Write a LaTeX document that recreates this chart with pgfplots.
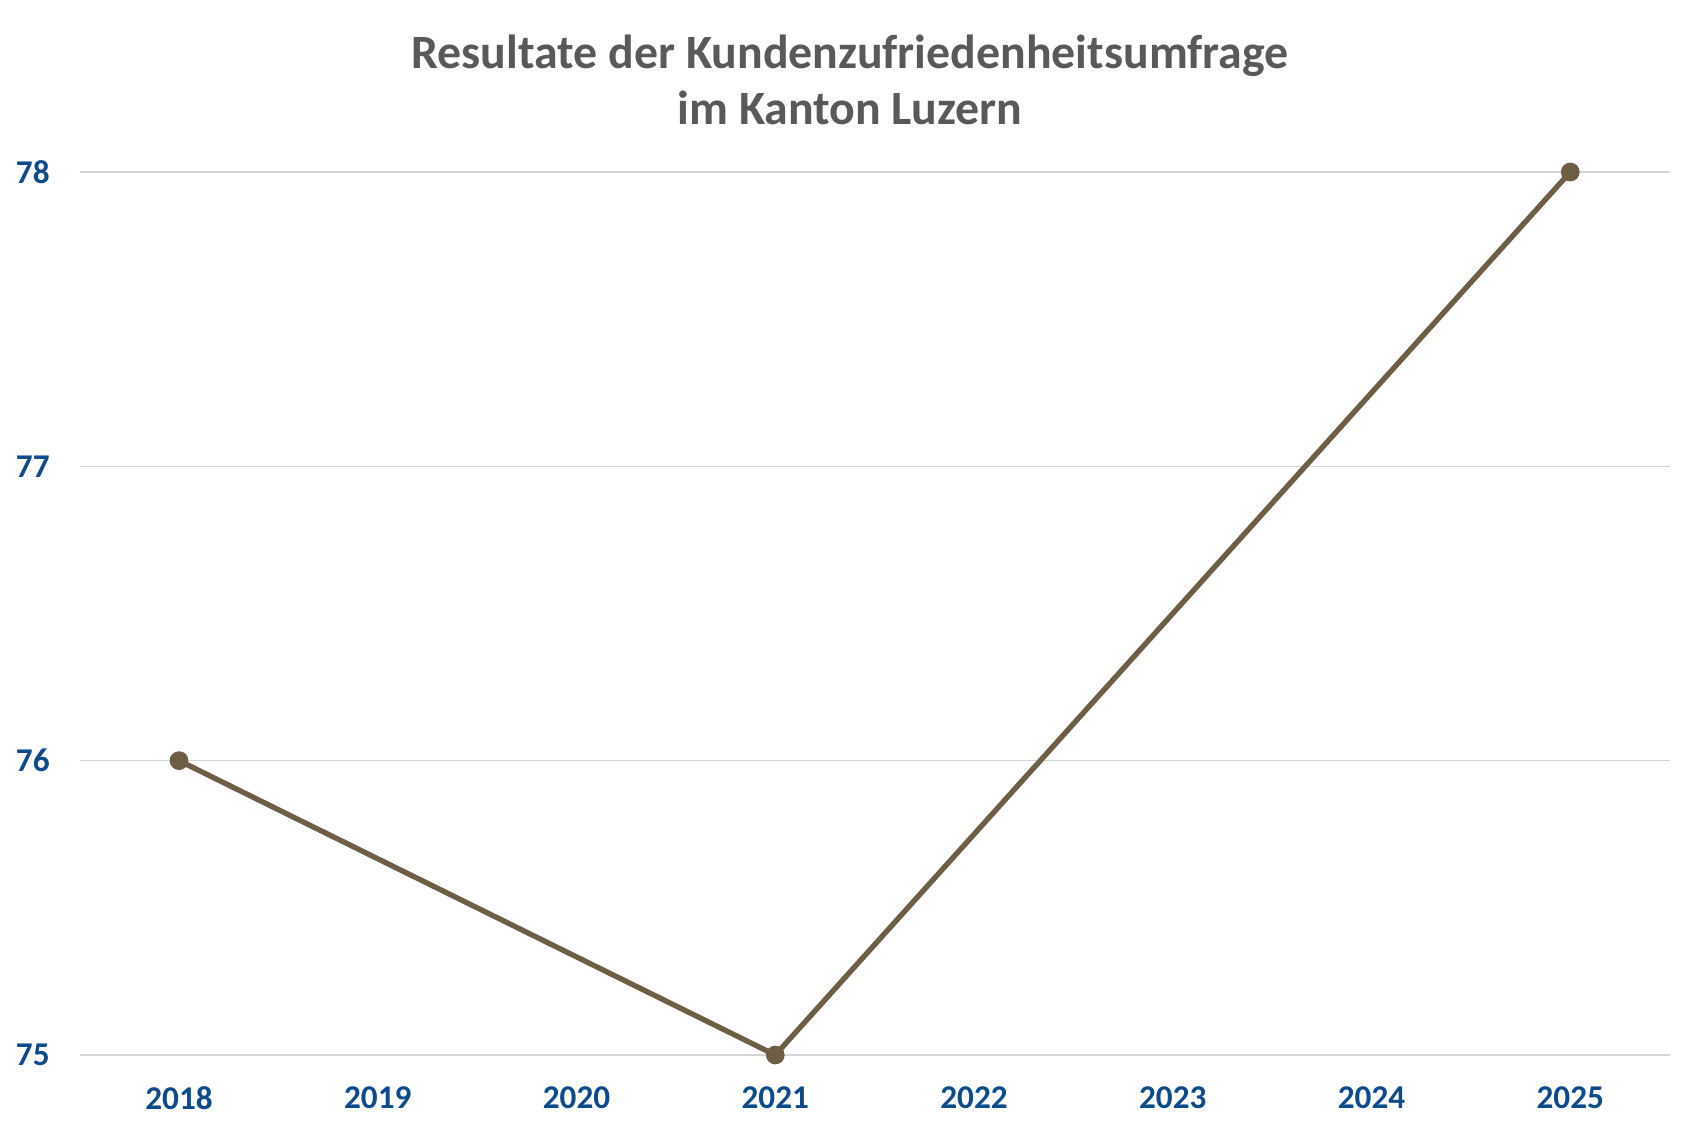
\documentclass[border=0pt]{standalone}
\usepackage{pgfplots}
\pgfplotsset{compat=1.18}
\usepackage{fontspec}
\setmainfont{Carlito}
\definecolor{titlegray}{HTML}{595959}
\definecolor{labblue}{HTML}{0E4B8C}
\definecolor{linebrown}{HTML}{6E5E45}
\definecolor{gridgray}{HTML}{D4D4D4}
\begin{document}
\begin{tikzpicture}
\path[fill=white] (0,0) rectangle (510bp,339.6bp);
\begin{axis}[
  at={(23.9bp,23.1bp)}, anchor=south west,
  scale only axis,
  width=477bp, height=264.9bp,
  xmin=-0.5, xmax=7.5,
  ymin=75, ymax=78,
  xtick={0,1,2,3,4,5,6,7},
  xticklabels={2018,2019,2020,2021,2022,2023,2024,2025},
  ytick={75,76,77,78},
  axis line style={draw=none},
  major tick length=0pt,
  ymajorgrids,
  grid style={gridgray, line width=0.45bp},
  tick label style={font=\fontsize{10}{12}\selectfont\bfseries, text=labblue},
  /pgf/number format/assume math mode=true,
  yticklabel style={anchor=east, xshift=-5.5bp},
  xticklabel style={anchor=north, yshift=-6bp},
  clip=false,
]
\addplot[linebrown, line width=1.6bp, mark=*, mark size=2bp, mark options={fill=linebrown, draw=linebrown}]
  coordinates {(0,76) (3,75) (7,78)};
\end{axis}
\node[align=center, text=titlegray, font=\fontsize{14.4}{16.8}\selectfont\bfseries] at (255bp,315.6bp) {Resultate der Kundenzufriedenheitsumfrage\\im Kanton Luzern};
\end{tikzpicture}
\end{document}
